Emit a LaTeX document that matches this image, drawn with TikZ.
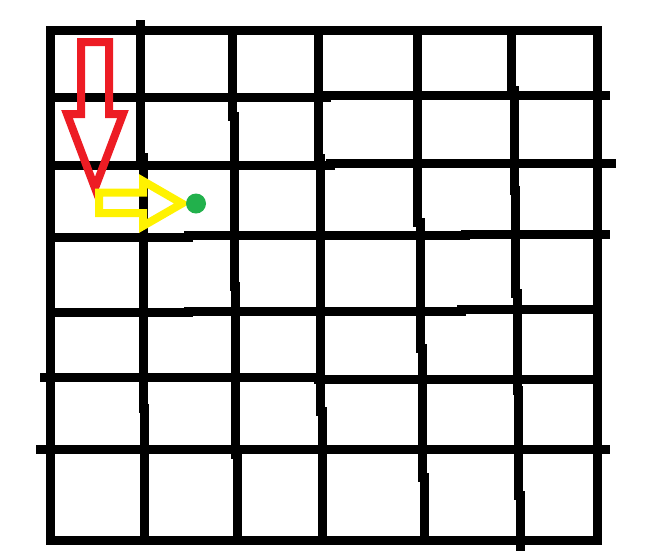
\documentclass[tikz,border=0pt]{standalone}
\usepackage{tikz}

\definecolor{paintred}{RGB}{237,28,36}
\definecolor{paintyellow}{RGB}{255,242,0}
\definecolor{paintgreen}{RGB}{34,177,76}

\begin{document}
\begin{tikzpicture}[
    x=1pt, y=-1pt,
    gridline/.style={line width=9pt, line cap=rect, black},
    hollowarrow/.style={line width=8pt, line join=miter},
  ]
    \useasboundingbox (0,0) rectangle (663,558);
    % outer frame
    \draw[gridline] (50,30) rectangle (597,540);
    % columns, drawn by hand so they shift a little
    \draw[gridline] (140,24) -- (140,157) (143,157) -- (143,408) (144,408) -- (144,540);
    \draw[gridline] (232,30) -- (232,116) (234,116) -- (234,286) (235,286) -- (235,454) (237,454) -- (237,540);
    \draw[gridline] (318,30) -- (318,158) (320,158) -- (320,411) (322,411) -- (322,540);
    \draw[gridline] (417,30) -- (417,222) (420,222) -- (420,348) (422,348) -- (422,477) (424,477) -- (424,540);
    \draw[gridline] (511,37) -- (511,90) (514,90) -- (514,190) (515.5,190) -- (515.5,293)
      (517,293) -- (517,390) (518,390) -- (518,495) (520,495) -- (520,546);
    % rows
    \draw[gridline] (50,97) -- (326,97) (326,95) -- (605,95);
    \draw[gridline] (50,165.5) -- (330,165.5) (330,163) -- (611,163);
    \draw[gridline] (50,237) -- (188,237) (188,235.5) -- (465,235.5) (465,234) -- (605,234);
    \draw[gridline] (50,312.5) -- (188,312.5) (188,311) -- (461,311) (461,309.5) -- (597,309.5);
    \draw[gridline] (44,377) -- (318,377) (318,379) -- (597,379);
    \draw[gridline] (40,449.5) -- (605,449.5);
    % arrows and the target
    \draw[hollowarrow, paintred] (81,42) -- (109,42) -- (109,114) -- (123,114)
      -- (95,188) -- (67,114) -- (81,114) -- cycle;
    \draw[hollowarrow, paintyellow] (99,192.5) -- (143,192.5) -- (143,181) -- (182,203.5)
      -- (143,226) -- (143,213) -- (99,213) -- cycle;
    \coordinate (target) at (196,203.5);
    \fill[paintgreen] (target) circle[radius=10pt];
\end{tikzpicture}
\end{document}
